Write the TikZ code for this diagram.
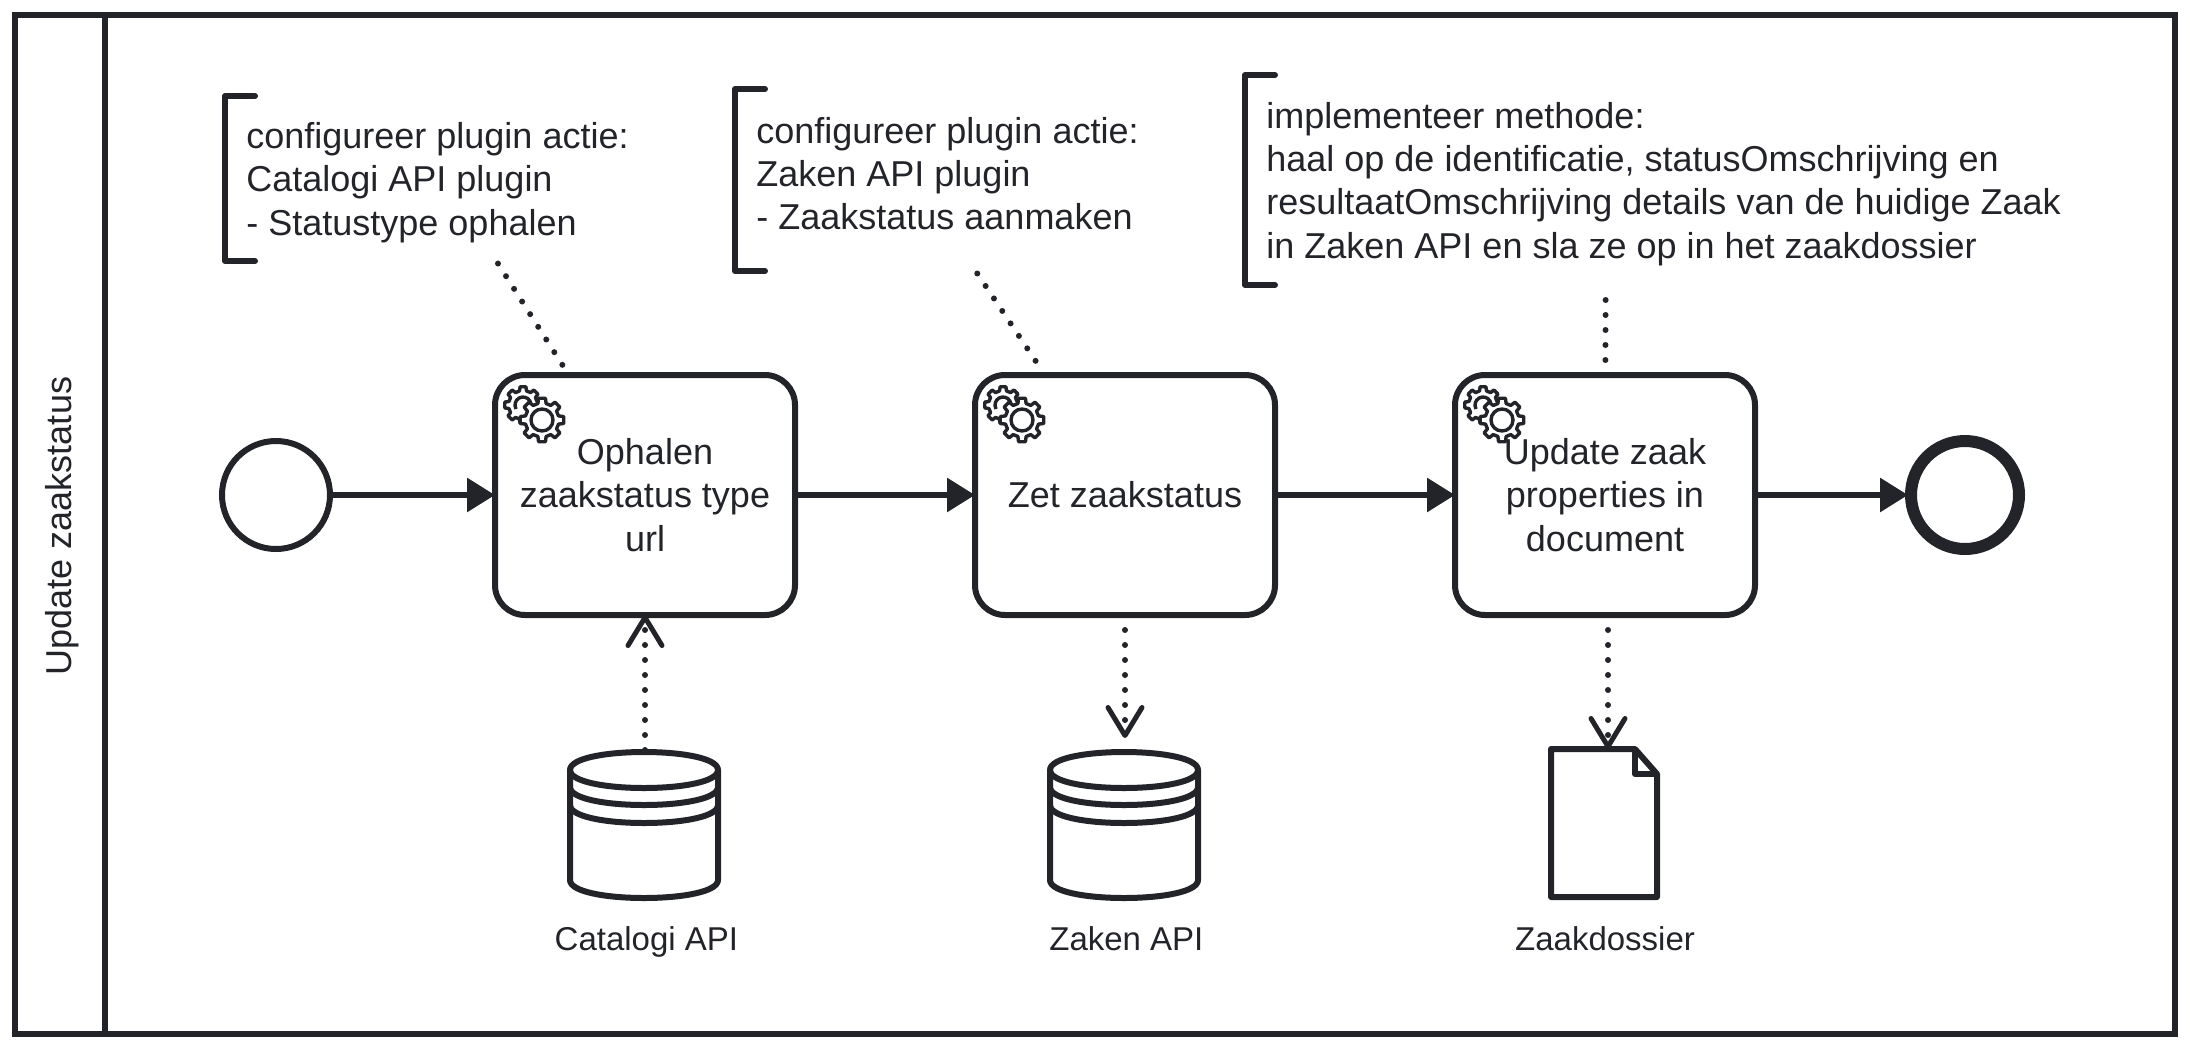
\documentclass[tikz,border=0pt]{standalone}
\usepackage{fontspec}
\setmainfont{Liberation Sans}
\usetikzlibrary{
  arrows.meta,
  positioning
}
\definecolor{ink}{RGB}{34,36,42}
\newcommand{\gearpath}[2]{(-14:#1) \foreach \a in {0,45,...,315} { -- (\a-14:#1) -- (\a-9:#2) -- (\a+9:#2) -- (\a+14:#1) } -- cycle}
\tikzset{
  poolbox/.style={draw=ink, line width=3pt, minimum width=1080pt, minimum height=509.5pt, outer sep=0pt},
  pooltitle/.style={text=ink, rotate=90, font=\fontsize{18}{21.6}\selectfont},
  taskbox/.style={draw=ink, fill=white, line width=3pt, rounded corners=15pt, minimum width=150pt, minimum height=120pt, align=center, text=ink, font=\fontsize{18}{21.6}\selectfont},
  startevent/.style={draw=ink, fill=white, circle, line width=3pt, minimum size=54pt, inner sep=0pt},
  endevent/.style={draw=ink, fill=white, circle, line width=6pt, minimum size=54pt, inner sep=0pt},
  notebox/.style={outer sep=0pt, inner sep=0pt},
  notetext/.style={anchor=west, inner sep=0pt, align=left, text=ink, font=\fontsize{18}{21.6}\selectfont},
  bracketline/.style={draw=ink, line width=3pt, line cap=round, line join=round},
  storebox/.style={minimum width=75pt, minimum height=75pt, outer sep=0pt, inner sep=0pt},
  docbox/.style={minimum width=53pt, minimum height=74pt, outer sep=0pt, inner sep=0pt},
  datalabel/.style={text=ink, font=\fontsize{16.5}{19.8}\selectfont},
  flow/.style={draw=ink, line width=3pt, shorten >=-1.5pt, -{Triangle[length=14pt,width=16.5pt]}},
  assoc/.style={draw=ink, line width=3pt, line cap=round, dash pattern=on 0pt off 7.5pt},
  dataflow/.style={assoc, -{Straight Barb[length=14pt,width=17pt,line width=2.5pt,round]}},
  servicegears/.pic={
    \draw[draw=ink, fill=white, line width=1.7pt, line join=round, shift={(31,33)}] \gearpath{14.5}{18.5};
    \draw[draw=ink, line width=1.7pt, shift={(31,33)}] (150:8) arc[start angle=150, end angle=360, radius=8];
    \draw[draw=ink, fill=white, line width=1.7pt, line join=round, shift={(50,48)}] \gearpath{17}{22};
    \draw[draw=ink, line width=1.7pt] (50,48) circle (11);
  },
  datastore/.pic={
    \draw[draw=ink, fill=white, line width=3pt, line join=round] (-75,-55) -- (-75,55) .. controls (-75,79) and (73,79) .. (73,55) -- (73,-55) .. controls (73,-79) and (-75,-79) .. (-75,-55) -- cycle;
    \foreach \y in {-55,-38,-20} {
      \draw[draw=ink, line width=3pt] (-75,\y) .. controls (-75,\y+24) and (73,\y+24) .. (73,\y);
    }
  },
  zaakdoc/.pic={
    \draw[draw=ink, fill=white, line width=3pt, line join=round] (-54,-74) -- (30,-74) -- (52,-49) -- (52,74) -- (-54,74) -- cycle;
    \draw[draw=ink, line width=3pt, line join=round] (30,-74) -- (30,-49) -- (52,-49);
  }
}

\begin{document}
\begin{tikzpicture}[x=0.5pt, y=-0.5pt]
  \useasboundingbox (0,0) rectangle (2190,1050);
  \node[poolbox] (pool) at (1095,524.5) {};
  \draw[draw=ink, line width=3pt] ([xshift=45pt]pool.north west) -- ([xshift=45pt]pool.south west);
  \node[pooltitle] (pooltitle) at (62,526) {Update zaakstatus};

  % proces
  \node[taskbox] (ophalen) at (645,495) {Ophalen\\zaakstatus type\\url};
  \node[taskbox, right=87pt of ophalen] (zetstatus) {Zet zaakstatus};
  \node[taskbox, right=87pt of zetstatus] (updatezaak) {Update zaak\\properties in\\document};
  \node[startevent, left=79.5pt of ophalen] (start) {};
  \node[endevent, right=73.5pt of updatezaak] (einde) {};
  \foreach \task in {ophalen,zetstatus,updatezaak} {
    \pic at (\task.north west) {servicegears};
  }

  \draw[flow] (start) -- (ophalen);
  \draw[flow] (ophalen) -- (zetstatus);
  \draw[flow] (zetstatus) -- (updatezaak);
  \draw[flow] (updatezaak) -- (einde);

  % annotaties
  \node[notebox, minimum width=219pt, minimum height=82.5pt] (noteophalen) at (444,178.5) {};
  \node[notebox, minimum width=180pt, minimum height=91pt] (notezet) at (915,180) {};
  \node[notebox, minimum width=361pt, minimum height=105pt] (noteupdate) at (1606,180) {};
  \foreach \note in {noteophalen,notezet,noteupdate} {
    \draw[bracketline] ([xshift=15pt]\note.north west) -- (\note.north west) -- (\note.south west) -- ([xshift=15pt]\note.south west);
  }
  \node[notetext] (textophalen) at ([xshift=10.5pt, yshift=-2pt]noteophalen.west) {configureer plugin actie:\\Catalogi API plugin\\- Statustype ophalen};
  \node[notetext] (textzet) at ([xshift=10.5pt, yshift=3.3pt]notezet.west) {configureer plugin actie:\\Zaken API plugin\\- Zaakstatus aanmaken};
  \node[notetext] (textupdate) at ([xshift=10.5pt, yshift=-2pt]noteupdate.west) {implementeer methode:\\haal op de identificatie, statusOmschrijving en\\resultaatOmschrijving details van de huidige Zaak\\in Zaken API en sla ze op in het zaakdossier};
  \draw[assoc, shorten <=1.5pt] (noteophalen) -- (ophalen);
  \draw[assoc, shorten <=1.5pt, shorten >=6pt] (notezet) -- (zetstatus);
  \draw[assoc, shorten <=7.5pt] (noteupdate) -- (updatezaak);

  % data
  \node[storebox, below=66pt of ophalen] (catalogi) {};
  \node[storebox, below=66pt of zetstatus] (zaken) {};
  \node[docbox, below=65.5pt of updatezaak] (dossier) {};
  \draw[dataflow, shorten >=-1.5pt] (catalogi) -- (ophalen);
  \draw[dataflow, dash phase=1.5pt, shorten >=6pt] (zetstatus) -- (zaken);
  \draw[dataflow, dash phase=1.5pt] ([xshift=1.5pt]updatezaak.south) -- ([xshift=1.5pt]dossier.north);
  \pic at (catalogi) {datastore};
  \pic at (zaken) {datastore};
  \pic at (dossier) {zaakdoc};
  \node[datalabel, below=10pt of catalogi, xshift=0.7pt] (labelcatalogi) {Catalogi API};
  \node[datalabel, below=10pt of zaken, xshift=0.7pt] (labelzaken) {Zaken API};
  \node[datalabel, below=11.5pt of dossier] (labeldossier) {Zaakdossier};
\end{tikzpicture}
\end{document}
